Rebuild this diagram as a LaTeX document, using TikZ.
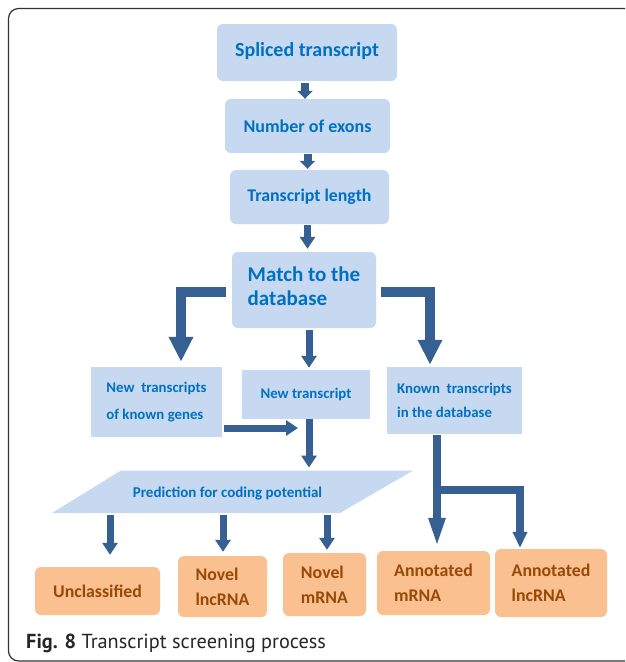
\documentclass[tikz,border=0pt]{standalone}
\usepackage{fontspec}
\setmainfont{Carlito}
\newfontfamily\capfont{PT Sans}
\usetikzlibrary{arrows.meta}
\definecolor{boxblue}{HTML}{C6D9F1}
\definecolor{txtblue}{HTML}{0070C0}
\definecolor{arrblue}{HTML}{376092}
\definecolor{boxorange}{HTML}{FAC090}
\definecolor{txtorange}{HTML}{984807}
\definecolor{framegray}{HTML}{333333}
\tikzset{
  bluebox/.style={fill=boxblue, text=txtblue, font=\bfseries, inner sep=0pt, align=left},
  rbox/.style={bluebox, rounded corners=6pt},
  orangebox/.style={fill=boxorange, text=txtorange, font=\bfseries\fontsize{17.8}{25}\selectfont, inner sep=0pt, rounded corners=6pt, align=left},
  smallarr/.style={draw=arrblue, line width=8pt, -{Triangle[width=15pt,length=8pt]}},
  midarr/.style={draw=arrblue, line width=7pt, -{Triangle[width=15pt,length=12pt]}},
  bigarr/.style={draw=arrblue, line width=9.5pt, line join=miter, -{Triangle[width=23pt,length=25pt]}},
  knownarr/.style={draw=arrblue, line width=8pt, line join=miter, -{Triangle[width=15pt,length=30pt]}},
  branch/.style={draw=arrblue, line width=8pt, line join=miter, -{Triangle[width=14pt,length=16pt]}},
}
\begin{document}
\begin{tikzpicture}[x=1pt,y=-1pt]
\useasboundingbox (0,0) rectangle (625,662);
\fill[white] (0,0) rectangle (625,662);
\begin{scope}
\clip (0,0) rectangle (625,662);
\draw[framegray, line width=1.2pt, rounded corners=10pt] (8.5,8.5) rectangle (660,661);
\end{scope}

% top chain
\node[rbox, minimum width=180pt, minimum height=57pt, text depth=7pt, font=\bfseries\fontsize{20}{24}\selectfont] (s1) at (307,52.5) {Spliced transcript};
\node[rbox, minimum width=165pt, minimum height=54pt, font=\bfseries\fontsize{18}{22}\selectfont] (s2) at (307.5,126) {Number of exons};
\node[rbox, minimum width=159pt, minimum height=54pt, font=\bfseries\fontsize{17.8}{22}\selectfont] (s3) at (309.5,197) {Transcript length};
\node[rbox, minimum width=144pt, minimum height=76pt, text depth=8pt, font=\bfseries\fontsize{21}{24}\selectfont] (s4) at (304,290) {Match\ to\ the\\database};

\draw[smallarr] (s1.south) ++(-2pt,-2pt) coordinate (a1s) -- (a1s |- s2.north);
\draw[smallarr] ([yshift=-1pt]s2.south) -- ([yshift=1pt]s2.south |- s3.north);
\draw[midarr] ([xshift=-2pt,yshift=-1pt]s3.south) -- ([xshift=-2pt,yshift=3pt]s3.south |- s4.north);

% second level
\node[bluebox, minimum width=131pt, minimum height=70pt, font=\bfseries\fontsize{14.8}{27}\selectfont] (b1) at (156.5,402) {New\ \ transcripts\\of known genes};
\node[bluebox, minimum width=128pt, minimum height=49pt, font=\bfseries\fontsize{14.8}{17}\selectfont] (b2) at (306,394.5) {New transcript};
\node[bluebox, minimum width=135pt, minimum height=67pt, font=\bfseries\fontsize{14.8}{24}\selectfont] (b3) at (454.5,400.5) {Known\ \ transcripts\\in the database};

\draw[bigarr] ([xshift=-6pt,yshift=-2pt]s4.west) -| ([xshift=24.5pt,yshift=5pt]b1.north);
\draw[bigarr] ([xshift=5pt,yshift=-2pt]s4.east) -| ([xshift=-24.5pt,yshift=2pt]b3.north);
\draw[midarr] ([xshift=5pt,yshift=-2pt]s4.south) -- ([xshift=5pt,yshift=2pt]s4.south |- b2.north);

% parallelogram
\coordinate (p1) at (121,470.5);
\coordinate (p2) at (413,470.5);
\coordinate (p3) at (340,513);
\coordinate (p4) at (52,513);
\fill[boxblue] (p1) -- (p2) -- (p3) -- (p4) -- cycle;
\node[text=txtblue, font=\bfseries\fontsize{15}{18}\selectfont] (pred) at (227.5,493) {Prediction for coding potential};

\coordinate (jn) at (298,428);
\draw[midarr] ([xshift=2pt,yshift=-26pt]b1.east) -- (jn);
\draw[midarr] ([xshift=3pt]b2.south) -- ([xshift=3pt,yshift=3pt]b2.south |- p1);

% bottom boxes
\node[orangebox, minimum width=125pt, minimum height=48pt] (o1) at (97.5,591) {Unclassified};
\node[orangebox, minimum width=89pt, minimum height=61pt] (o2) at (222.5,586.5) {Novel\\lncRNA};
\node[orangebox, minimum width=83pt, minimum height=63pt] (o3) at (324.5,584.5) {Novel\\mRNA};
\node[orangebox, minimum width=113pt, minimum height=64pt] (o4) at (433.5,583) {Annotated\\mRNA};
\node[orangebox, minimum width=112pt, minimum height=68pt] (o5) at (551,583) {Annotated\\lncRNA};

\coordinate (q1) at (110,515);
\coordinate (q2) at (223,515);
\coordinate (q3) at (327,515);
\draw[midarr] (q1) -- ([yshift=12pt]q1 |- o1.north);
\draw[midarr] (q2) -- ([yshift=4pt]q2 |- o2.north);
\draw[midarr] (q3) -- ([yshift=3pt]q3 |- o3.north);

\draw[knownarr] ([xshift=-17.5pt,yshift=-1pt]b3.south) -- ([xshift=-17.5pt,yshift=3pt]b3.south |- o4.north);
\coordinate (br) at (433,490);
\draw[branch] (br) -| ([xshift=-31pt,yshift=1pt]o5.north);

% caption
\node[anchor=base west, inner sep=0pt, text=black!85, font=\capfont\fontsize{20.3}{24}\selectfont] (cap) at (26,648) {\textbf{Fig. 8} Transcript screening process};
\end{tikzpicture}
\end{document}
